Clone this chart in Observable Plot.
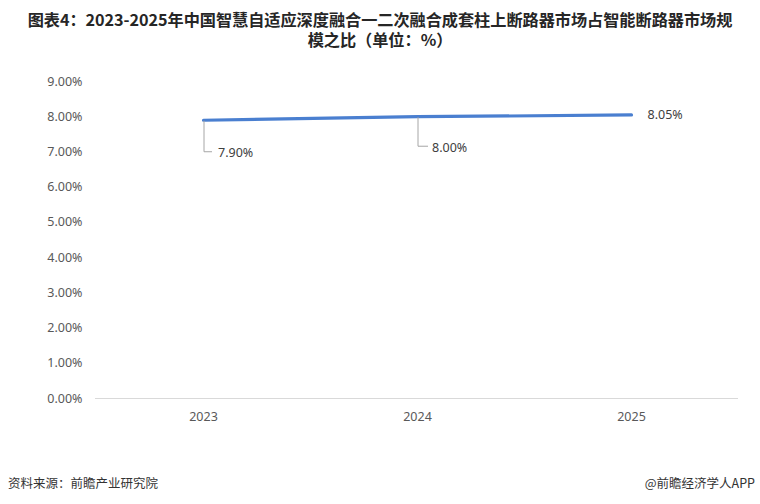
<!DOCTYPE html>
<html>
<head>
<meta charset="utf-8">
<script src="https://cdn.jsdelivr.net/npm/d3@7"></script>
<script src="https://cdn.jsdelivr.net/npm/@observablehq/plot@0.6"></script>
<style>
  html, body { margin: 0; padding: 0; background: #ffffff; }
  body { width: 760px; height: 504px; position: relative; overflow: hidden; font-family: "Noto Sans", "Noto Sans CJK SC", sans-serif; }
  .title { position: absolute; left: 0; width: 760px; text-align: center; font-family: "Noto Sans CJK SC", sans-serif; font-weight: bold; font-size: 16.2px; line-height: 18px; height: 18px; color: #262626; white-space: nowrap; letter-spacing: -0.05px; }
  #t1 { top: 10px; }
  #t2 { top: 30px; }
  #chart { position: absolute; left: 0; top: 50px; }
  #src { position: absolute; left: 8px; top: 473px; font-family: "Noto Sans CJK SC", sans-serif; font-size: 12.5px; color: #333; }
  #app { position: absolute; right: 5px; top: 473px; font-family: "Noto Sans CJK SC", sans-serif; font-size: 12.5px; color: #333; }
</style>
</head>
<body>
<div class="title" id="t1">图表4：2023-2025年中国智慧自适应深度融合一二次融合成套柱上断路器市场占智能断路器市场规</div>
<div class="title" id="t2">模之比（单位：%）</div>
<div id="chart"></div>
<div id="src">资料来源：前瞻产业研究院</div>
<div id="app">@前瞻经济学人APP</div>
<script>
const years = ["2023", "2024", "2025"];
const shares = [7.90, 8.00, 8.05];
const yTicks = [0, 1, 2, 3, 4, 5, 6, 7, 8, 9];
const labelText = ["7.90%", "8.00%", "8.05%"];

const data = years.map((y, i) => ({year: y, value: shares[i], label: labelText[i]}));
const leadered = data.slice(0, 2);
const endLabel = data.slice(2);

const leaderStyle = [{down: 32, right: 8, gap: 6}, {down: 30, right: 10, gap: 4}];

function leaders(index, scales) {
  const g = d3.create("svg:g");
  leadered.forEach((d, i) => {
    const x = scales.x(d.year) + 1;
    const y = scales.y(d.value);
    const s = leaderStyle[i];
    g.append("path")
      .attr("d", `M${x},${y + 1}V${y + s.down}H${x + s.right}`)
      .attr("fill", "none")
      .attr("stroke", "#a6a6a6")
      .attr("stroke-width", 1);
    g.append("text")
      .attr("x", x + s.right + s.gap)
      .attr("y", y + s.down + 1)
      .attr("dy", "0.35em")
      .attr("text-anchor", "start")
      .attr("font-size", 12.5)
      .attr("fill", "#404040")
      .attr("font-family", "Noto Sans, sans-serif")
      .text(d.label);
  });
  return g.node();
}

const chart = Plot.plot({
  width: 760,
  height: 412,
  marginLeft: 95,
  marginRight: 22,
  marginTop: 31,
  marginBottom: 64,
  style: {fontFamily: "Noto Sans, sans-serif", fontSize: "12px", color: "#595959", background: "transparent"},
  x: {type: "point", domain: years, padding: 0.5, label: null},
  y: {domain: [0, 9], label: null},
  marks: [
    Plot.ruleY([0], {stroke: "#d9d9d9", strokeWidth: 1}),
    Plot.axisY({ticks: yTicks, tickSize: 0, tickPadding: 13, tickFormat: d => d.toFixed(2) + "%", fill: "#595959", fontSize: 12.5}),
    Plot.axisX({tickSize: 0, tickPadding: 14, fill: "#595959", fontSize: 12.5}),
    Plot.line(data, {x: "year", y: "value", stroke: "#4a7fd0", strokeWidth: 3.2, strokeLinecap: "round"}),
    leaders,
    Plot.text(endLabel, {x: "year", y: "value", text: "label", dx: 16, textAnchor: "start", fill: "#404040", fontSize: 12.5})
  ]
});
document.getElementById("chart").appendChild(chart);
</script>
</body>
</html>
